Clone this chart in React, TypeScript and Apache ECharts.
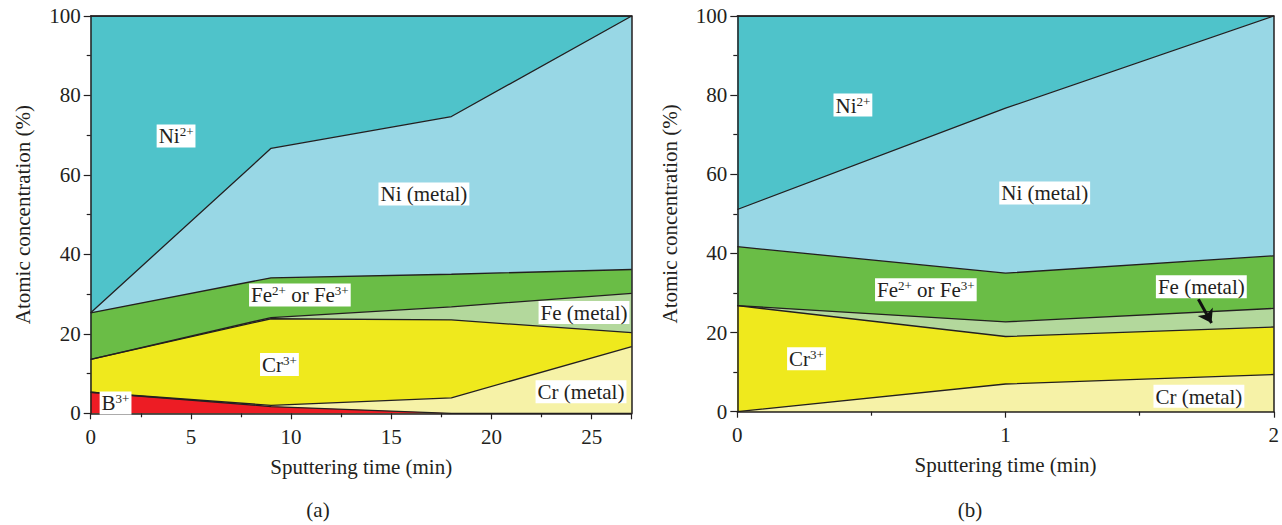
import React, { useEffect, useRef } from 'react';
import * as echarts from 'echarts';

// ---- Panel (a) data: sputtering time (min) and atomic concentration (%) per species ----
const timeA = [0, 9, 18, 27];
const b3A = [5.3, 1.7, 0, 0];
const crMetalA = [0, 0.3, 3.9, 16.8];
const cr3A = [8.3, 21.8, 19.6, 3.5];
const feMetalA = [0, 0.3, 3.3, 9.9];
const feIonA = [11.7, 10.0, 8.2, 6.0];
const niMetalA = [0, 32.6, 39.7, 63.8];
const niIonA = [74.7, 33.3, 25.3, 0];

// ---- Panel (b) data ----
const timeB = [0, 1, 2];
const crMetalB = [0, 7.0, 9.4];
const cr3B = [26.8, 12.0, 12.0];
const feMetalB = [0, 3.7, 4.7];
const feIonB = [14.9, 12.3, 13.3];
const niMetalB = [9.4, 41.7, 60.6];
const niIonB = [48.9, 23.3, 0];

// tick labels
const yTicks = [0, 20, 40, 60, 80, 100];
const xTicksA = [0, 5, 10, 15, 20, 25];
const xTicksB = [0, 1, 2];

const FONT = "'Liberation Serif', serif";
const INK = '#231f20';

const COLORS = {
  niIon: '#4fc3ca',
  niMetal: '#98d7e5',
  feIon: '#6abd46',
  feMetal: '#b3d89c',
  cr3: '#efe91d',
  crMetal: '#f6f2a7',
  b3: '#ed1c24',
};

// annotation anchors (data coordinates) and texts
const labelsA = [
  { text: '{n|Ni}{s|2+}', at: [4.26, 69.8] },
  { text: '{n|Ni (metal)}', at: [16.63, 55.2] },
  { text: '{n|Fe}{s|2+}{n| or Fe}{s|3+}', at: [10.44, 29.8] },
  { text: '{n|Fe (metal)}', at: [24.62, 25.4] },
  { text: '{n|Cr}{s|3+}', at: [9.42, 12.3] },
  { text: '{n|Cr (metal)}', at: [24.47, 5.4] },
  { text: '{n|B}{s|3+}', at: [1.24, 2.6] },
];
const labelsB = [
  { text: '{n|Ni}{s|2+}', at: [0.431, 77.5] },
  { text: '{n|Ni (metal)}', at: [1.146, 55.3] },
  { text: '{n|Fe}{s|2+}{n| or Fe}{s|3+}', at: [0.703, 30.8] },
  { text: '{n|Fe (metal)}', at: [1.73, 31.6] },
  { text: '{n|Cr}{s|3+}', at: [0.258, 13.4] },
  { text: '{n|Cr (metal)}', at: [1.721, 3.9] },
];
const arrowB = [[1.719, 28.4], [1.768, 22.4]];

function cumulate(layers: number[][]): number[][] {
  const out: number[][] = [];
  let run = layers[0].map(() => 0);
  for (const l of layers) {
    run = run.map((v, i) => Math.round((v + l[i]) * 100) / 100);
    out.push(run);
  }
  return out;
}

function bandSeries(idx: number, times: number[], layers: { v: number[]; c: string }[]) {
  // layers bottom -> top
  const cum = cumulate(layers.map((l) => l.v));
  const series: any[] = [];
  for (let k = layers.length - 1; k >= 0; k--) {
    series.push({
      type: 'line',
      xAxisIndex: idx,
      yAxisIndex: idx,
      data: times.map((t, i) => [t, cum[k][i]]),
      symbol: 'none',
      silent: true,
      areaStyle: { color: layers[k].c, opacity: 1, origin: 'start' },
      lineStyle: { color: INK, width: 1.3 },
      z: 2,
    });
  }
  return series;
}

const rich = {
  n: { fontSize: 21, fontFamily: FONT, color: INK, lineHeight: 22 },
  s: { fontSize: 13, fontFamily: FONT, color: INK, lineHeight: 13, verticalAlign: 'top' as const },
};

function labelSeries(idx: number, labels: { text: string; at: number[] }[], extra: any = {}) {
  return {
    type: 'scatter',
    xAxisIndex: idx,
    yAxisIndex: idx,
    symbolSize: 0,
    silent: true,
    z: 10,
    itemStyle: { opacity: 1 },
    data: labels.map((l) => ({
      value: l.at,
      label: { formatter: l.text },
    })),
    label: {
      show: true,
      position: 'inside',
      backgroundColor: '#ffffff',
      padding: [1, 2, 0, 2],
      opacity: 1,
      rich,
    },
    ...extra,
  };
}

function xAxisFor(grid: number, max: number, interval: number, ticks: number[]) {
  return {
    gridIndex: grid,
    type: 'value',
    min: 0,
    max,
    interval,
    axisLine: { show: true, onZero: false, lineStyle: { color: INK, width: 1.5 } },
    axisTick: { show: true, length: 6, lineStyle: { color: INK, width: 1.2 } },
    minorTick: { show: true, splitNumber: 2, length: 4, lineStyle: { color: INK, width: 1.2 } },
    splitLine: { show: false },
    axisLabel: {
      fontSize: 21,
      fontFamily: FONT,
      color: INK,
      margin: 13,
      formatter: (v: number) => (ticks.includes(v) ? String(v) : ''),
    },
    name: 'Sputtering time (min)',
    nameLocation: 'middle',
    nameGap: 43,
    nameTextStyle: { fontSize: 21, fontFamily: FONT, color: INK },
    z: 5,
  };
}

function yAxisFor(grid: number) {
  return {
    gridIndex: grid,
    type: 'value',
    min: 0,
    max: 100,
    interval: 20,
    axisLine: { show: true, onZero: false, lineStyle: { color: INK, width: 1.5 } },
    axisTick: { show: true, length: 7, lineStyle: { color: INK, width: 1.2 } },
    minorTick: { show: true, splitNumber: 2, length: 4, lineStyle: { color: INK, width: 1.2 } },
    splitLine: { show: false },
    axisLabel: {
      fontSize: 21,
      fontFamily: FONT,
      color: INK,
      margin: 10,
      formatter: (v: number) => (yTicks.includes(v) ? String(v) : ''),
    },
    name: 'Atomic concentration (%)',
    nameLocation: 'middle',
    nameGap: 57,
    nameTextStyle: { fontSize: 21, fontFamily: FONT, color: INK },
    z: 5,
  };
}

function frameAxis(grid: number, pos: string, max: number) {
  return {
    gridIndex: grid,
    type: 'value',
    position: pos,
    min: 0,
    max,
    axisLine: { show: true, onZero: false, lineStyle: { color: INK, width: 1.5 } },
    axisTick: { show: false },
    axisLabel: { show: false },
    splitLine: { show: false },
    z: 5,
  };
}

export default function App() {
  const ref = useRef<HTMLDivElement>(null);
  useEffect(() => {
    if (!ref.current) return;
    const chart = echarts.init(ref.current, undefined, { renderer: 'svg' });
    const seriesA = bandSeries(0, timeA, [
      { v: b3A, c: COLORS.b3 },
      { v: crMetalA, c: COLORS.crMetal },
      { v: cr3A, c: COLORS.cr3 },
      { v: feMetalA, c: COLORS.feMetal },
      { v: feIonA, c: COLORS.feIon },
      { v: niMetalA, c: COLORS.niMetal },
      { v: niIonA, c: COLORS.niIon },
    ]);
    const seriesB = bandSeries(1, timeB, [
      { v: crMetalB, c: COLORS.crMetal },
      { v: cr3B, c: COLORS.cr3 },
      { v: feMetalB, c: COLORS.feMetal },
      { v: feIonB, c: COLORS.feIon },
      { v: niMetalB, c: COLORS.niMetal },
      { v: niIonB, c: COLORS.niIon },
    ]);
    chart.setOption({
      animation: false,
      backgroundColor: '#ffffff',
      grid: [
        { left: 90.7, top: 16, width: 541, height: 397.3 },
        { left: 737.3, top: 16, width: 539.4, height: 395.7 },
      ],
      xAxis: [
        xAxisFor(0, 27, 5, xTicksA),
        xAxisFor(1, 2, 1, xTicksB),
        frameAxis(0, 'top', 27),
        frameAxis(1, 'top', 2),
      ],
      yAxis: [yAxisFor(0), yAxisFor(1), frameAxis(0, 'right', 100), frameAxis(1, 'right', 100)],
      series: [
        ...seriesA,
        ...seriesB,
        labelSeries(0, labelsA),
        labelSeries(1, labelsB, {
          markLine: {
            silent: true,
            symbol: ['none', 'arrow'],
            symbolSize: 13,
            label: { show: false },
            lineStyle: { color: '#111111', width: 3, type: 'solid', opacity: 1 },
            itemStyle: { color: '#111111' },
            data: [[{ coord: arrowB[0] }, { coord: arrowB[1] }]],
          },
        }),
      ],
      graphic: [
        {
          type: 'text',
          x: 318,
          y: 510,
          style: { text: '(a)', fontSize: 21, fontFamily: FONT, fill: INK, align: 'center', verticalAlign: 'middle' },
        },
        {
          type: 'text',
          x: 970,
          y: 510,
          style: { text: '(b)', fontSize: 21, fontFamily: FONT, fill: INK, align: 'center', verticalAlign: 'middle' },
        },
      ],
    });
    return () => chart.dispose();
  }, []);
  return <div ref={ref} style={{ position: 'absolute', left: 0, top: 0, width: 1282, height: 525 }} />;
}
